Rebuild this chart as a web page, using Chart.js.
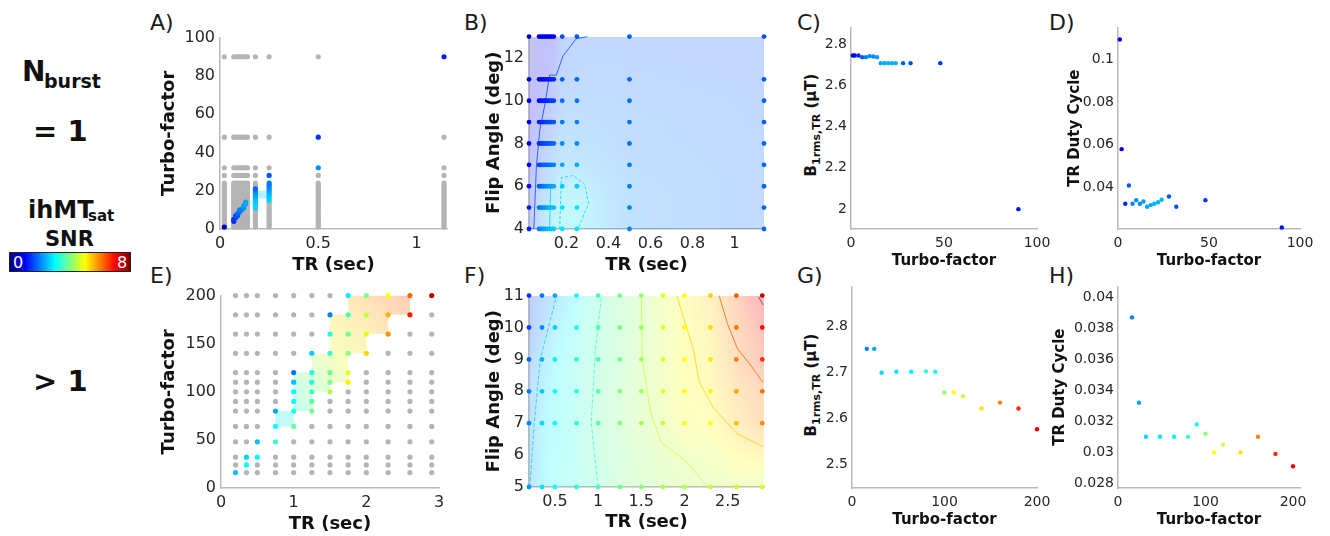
<!DOCTYPE html>
<html><head><meta charset="utf-8">
<script src="https://cdn.jsdelivr.net/npm/chart.js@4.4.1/dist/chart.umd.min.js"></script>
<style>
html,body{margin:0;padding:0;background:#fff;}
body{position:relative;width:1330px;height:536px;overflow:hidden;font-family:'DejaVu Sans',sans-serif;color:#111;}
.t{position:absolute;white-space:nowrap;line-height:1;}
.b{font-weight:bold;}
canvas{position:absolute;}
.pl{font-size:22px;color:#1a1a1a;}
</style></head><body>
<div class="t b" style="left:22px;top:58px;font-size:28px;">N</div>
<div class="t b" style="left:44px;top:72px;font-size:19px;">burst</div>
<div class="t b" style="left:33px;top:117px;font-size:29px;">= 1</div>
<div class="t b" style="left:28px;top:198px;font-size:24px;">ihMT</div>
<div class="t b" style="left:88px;top:209px;font-size:15px;">sat</div>
<div class="t b" style="left:45px;top:229px;font-size:21px;">SNR</div>
<div id="cbar" style="position:absolute;left:9px;top:252px;width:120px;height:18px;border:1.5px solid #222;"></div>
<div class="t" style="left:13px;top:255px;font-size:16px;color:#fff;">0</div>
<div class="t" style="left:117px;top:255px;font-size:16px;color:#fff;">8</div>
<div class="t b" style="left:33px;top:367px;font-size:29px;">&gt; 1</div>

<div class="t pl" style="left:150px;top:12px;">A)</div>
<div class="t pl" style="left:464px;top:12px;">B)</div>
<div class="t pl" style="left:797px;top:12px;">C)</div>
<div class="t pl" style="left:1049px;top:12px;">D)</div>
<div class="t pl" style="left:150px;top:265px;">E)</div>
<div class="t pl" style="left:464px;top:265px;">F)</div>
<div class="t pl" style="left:797px;top:265px;">G)</div>
<div class="t pl" style="left:1049px;top:265px;">H)</div>

<div class="t b" style="left:811px;top:125px;transform:translate(-50%,-50%) rotate(-90deg);font-size:15px;">B<span style="font-size:11px;position:relative;top:4px;">1rms,TR</span> (μT)</div>
<div class="t b" style="left:811px;top:385px;transform:translate(-50%,-50%) rotate(-90deg);font-size:15px;">B<span style="font-size:11px;position:relative;top:4px;">1rms,TR</span> (μT)</div>

<script>
// ---------------- DATA ----------------
// N_burst = 1 : tested grid (panels A, B)
const TR_AB = [0.022, 0.07, 0.08, 0.09, 0.10, 0.11, 0.12, 0.13, 0.14, 0.18, 0.25, 0.5, 1.14];
const TF_A = [1,2,3,4,5,6,7,8,9,10,11,12,13,14,15,16,17,18,19,20,21,22,23,24,28,32,48,90];
const FA_B = [4, 5, 6, 7, 8, 9, 10, 11, 13];
// SNR for panel B (rows = FA_B, cols = TR_AB)
const SNR_B = [
  [1.3, 2.0, 2.1, 2.2, 2.3, 2.4, 2.5, 2.55, 2.6, 2.8, 2.8, 2.0, 1.8],
  [1.2, 1.9, 2.0, 2.1, 2.2, 2.3, 2.4, 2.45, 2.5, 2.8, 2.8, 2.0, 1.8],
  [1.1, 1.7, 1.8, 1.9, 2.0, 2.1, 2.2, 2.25, 2.3, 2.6, 2.6, 2.0, 1.8],
  [1.0, 1.5, 1.6, 1.7, 1.75, 1.8, 1.9, 1.95, 2.0, 2.3, 2.3, 1.95, 1.8],
  [0.9, 1.3, 1.4, 1.5, 1.55, 1.6, 1.7, 1.75, 1.8, 2.1, 2.1, 1.9, 1.8],
  [0.85, 1.2, 1.3, 1.35, 1.4, 1.5, 1.55, 1.6, 1.65, 1.95, 2.0, 1.9, 1.75],
  [0.8, 1.05, 1.15, 1.2, 1.25, 1.3, 1.4, 1.45, 1.5, 1.85, 1.9, 1.85, 1.75],
  [0.7, 0.9, 1.0, 1.05, 1.1, 1.15, 1.2, 1.25, 1.3, 1.75, 1.8, 1.8, 1.7],
  [0.5, 0.6, 0.65, 0.7, 0.75, 0.8, 0.85, 0.9, 0.95, 1.6, 1.7, 1.7, 1.65]
];
// Panel A highlighted (coloured) points
const TR_Ac = [0.022, 0.07,0.07,0.08,0.08,0.09,0.09,0.10,0.10,0.11,0.12,0.12,0.13,0.13,
  0.18,0.18,0.18,0.18,0.18,0.18,0.18,0.18,0.18,0.18,0.18,
  0.25,0.25,0.25,0.25,0.25,0.25,0.25,0.25,0.25,0.25, 0.25, 0.5, 0.5, 1.14];
const TF_Ac = [1, 4,5,6,7,7,8,9,10,10,11,12,13,14,
  11,12,13,14,15,16,17,18,19,20,21,
  15,16,17,18,19,20,21,22,23,24, 28, 32, 48, 90];
const SNR_Ac = [0.5, 1.3,1.4,1.5,1.6,1.7,1.8,1.9,2.0,2.0,2.1,2.2,2.3,2.3,
  2.6,2.7,2.7,2.6,2.6,2.5,2.4,2.3,2.2,2.0,1.8,
  2.7,2.6,2.6,2.5,2.4,2.3,2.2,2.1,2.0,1.9, 1.7, 2.1, 1.4, 1.2];
const A_patchTR = [0.18, 0.25, 0.25, 0.18, 0.18];
const A_patchTF = [16, 16, 20, 20, 16];
const A_patchSNR = 2.6;
// Panel B contour lines
const B_c1TR = [0.045, 0.057, 0.073, 0.097, 0.12, 0.152, 0.184, 0.247, 0.3];
const B_c1FA = [4, 6.9, 8.6, 9.8, 11.2, 11.2, 12.1, 12.9, 13];
const B_c2TR = [0.12, 0.125];
const B_c2FA = [4, 5.9];
const B_c3TR = [0.168, 0.176, 0.231, 0.287, 0.306, 0.255];
const B_c3FA = [4, 6.4, 6.5, 6.1, 5.2, 4];
const B_levels = [1.5, 2.6, 2.6];
// Panels C, D : optimum per turbo-factor, N_burst = 1
const TF_1 = [1,2,4,6,8,10,12,14,16,18,20,22,24,28,32,48,90];
const B1_1 = [2.744,2.744,2.744,2.736,2.736,2.741,2.739,2.736,2.707,2.707,2.707,2.707,2.707,2.707,2.707,2.707,2.0];
const DC_1 = [0.1093,0.058,0.0324,0.041,0.0324,0.0341,0.0324,0.0335,0.031,0.0318,0.0324,0.0331,0.0343,0.0358,0.031,0.0341,0.0213];
const SNR_1 = [0.8,1.0,1.3,1.7,2.0,2.1,2.1,2.2,2.3,2.3,2.4,2.4,2.4,1.7,1.6,1.4,1.1];
// N_burst > 1 : tested grid (panels E, F)
const TR_N = [0.2, 0.35, 0.5, 0.75, 1.0, 1.25, 1.5, 1.75, 2.0, 2.3, 2.6, 2.9];
const TF_N = [16, 24, 32, 48, 64, 80, 90, 100, 110, 120, 140, 160, 180, 200];
const FA_F = [5, 7, 8, 9, 10, 11];
const SNR_F = [
  [2.2, 2.8, 3.1, 3.3, 3.6, 3.9, 4.1, 4.3, 4.4, 4.5, 4.6, 4.6],
  [2.1, 2.7, 3.0, 3.3, 3.7, 4.0, 4.3, 4.6, 4.9, 5.0, 5.5, 5.9],
  [2.0, 2.6, 3.0, 3.3, 3.7, 4.0, 4.3, 4.7, 5.0, 5.1, 5.7, 6.1],
  [1.8, 2.4, 2.9, 3.3, 3.6, 3.9, 4.3, 4.7, 5.0, 5.2, 6.0, 6.6],
  [1.5, 2.1, 2.6, 3.2, 3.6, 3.9, 4.2, 4.7, 5.0, 5.3, 6.1, 6.9],
  [1.4, 1.9, 2.3, 3.0, 3.5, 3.9, 4.2, 4.7, 5.0, 5.4, 6.3, 7.5]
];
// Panel E coloured points
const TR_Ec = [1.75,2.0,2.3,2.6,2.9, 1.5,1.75,2.0,2.3,2.6, 1.5,1.75,2.0,2.3, 1.25,1.5,1.75,2.0,
  1.0,1.25,1.5,1.75, 1.0,1.25,1.5,1.75, 1.0,1.25,1.5, 1.0,1.25, 0.75,1.0,1.25, 0.75,1.0, 0.5,0.75, 0.35,0.5, 0.35, 0.2];
const TF_Ec = [200,200,200,200,200, 180,180,180,180,180, 160,160,160,160, 140,140,140,140,
  120,120,120,120, 110,110,110,110, 100,100,100, 90,90, 80,80,80, 64,64, 48,48, 32,32, 24, 16];
const SNR_Ec = [2.9,4.0,5.0,6.2,7.6, 2.0,3.5,4.5,5.6,6.8, 3.2,3.9,4.7,5.9, 2.6,3.4,4.1,5.3,
  1.9,3.2,3.9,4.8, 2.5,3.3,4.0,5.1, 3.0,3.5,4.4, 3.1,3.7, 2.3,3.2,3.9, 3.1,3.8, 2.5,3.4, 2.7,3.0, 3.0, 2.5];
const E_patchTR = [0.75,0.75,1.0,1.0,1.25,1.25,1.5,1.5,1.75,1.75,2.6,2.6,2.3,2.3,2.0,2.0,1.75,1.75,1.5,1.5,1.25,1.25,1.0,1.0,0.75];
const E_patchTF = [64,80,80,120,120,140,140,180,180,200,200,180,180,160,160,140,140,110,110,100,100,80,80,64,64];
const E_patchSNR = [2.9, 3.8, 4.8, 5.6, 6.4];
// Panel F contour lines
const F_c1TR = [0.21, 0.26, 0.33, 0.52];        const F_c1FA = [5, 7, 9, 11];
const F_c2TR = [1.0, 0.92, 0.97, 1.04];         const F_c2FA = [5, 7, 9.35, 11];
const F_c3TR = [2.27, 2.02, 1.73, 1.61, 1.51, 1.5]; const F_c3FA = [5, 5.8, 6.4, 7.3, 9.0, 11];
const F_c4TR = [2.91, 2.61, 2.33, 2.17, 2.1, 1.91]; const F_c4FA = [6.26, 6.67, 7.5, 8.3, 9.35, 11];
const F_c5TR = [2.91, 2.77, 2.61, 2.5, 2.4];    const F_c5FA = [8.27, 8.8, 9.35, 10.1, 11];
const F_c6TR = [2.91, 2.86];                    const F_c6FA = [10.7, 10.95];
const F_levels = [2.6, 3.4, 4.6, 5.4, 6.3, 7.3];
// Panels G, H : optimum per turbo-factor, N_burst > 1
const B1_N = [2.752,2.752,2.700,2.702,2.702,2.703,2.702,2.657,2.657,2.649,2.622,2.635,2.622,2.577];
const DC_N = [0.0387,0.0332,0.0310,0.0310,0.0310,0.0310,0.0318,0.0312,0.0300,0.0305,0.0300,0.0310,0.0299,0.0291];
const SNR_N = [2.0,2.3,2.7,2.8,2.9,3.4,3.1,4.1,5.0,4.6,5.2,6.0,6.7,7.1];
// Tick values / labels
const A_xt = [0, 0.5, 1], A_xl = ['0','0.5','1'];
const A_yt = [0, 20, 40, 60, 80, 100], A_yl = ['0','20','40','60','80','100'];
const B_xt = [0.2, 0.4, 0.6, 0.8, 1], B_xl = ['0.2','0.4','0.6','0.8','1'];
const B_yt = [4, 6, 8, 10, 12], B_yl = ['4','6','8','10','12'];
const C_xt = [0, 50, 100], C_xl = ['0','50','100'];
const C_yt = [2, 2.2, 2.4, 2.6, 2.8], C_yl = ['2','2.2','2.4','2.6','2.8'];
const D_xt = [0, 50, 100], D_xl = ['0','50','100'];
const D_yt = [0.04, 0.06, 0.08, 0.1], D_yl = ['0.04','0.06','0.08','0.1'];
const E_xt = [0, 1, 2, 3], E_xl = ['0','1','2','3'];
const E_yt = [0, 50, 100, 150, 200], E_yl = ['0','50','100','150','200'];
const F_xt = [0.5, 1, 1.5, 2, 2.5], F_xl = ['0.5','1','1.5','2','2.5'];
const F_yt = [5, 6, 7, 8, 9, 10, 11], F_yl = ['5','6','7','8','9','10','11'];
const G_xt = [0, 100, 200], G_xl = ['0','100','200'];
const G_yt = [2.5, 2.6, 2.7, 2.8], G_yl = ['2.5','2.6','2.7','2.8'];
const H_xt = [0, 100, 200], H_xl = ['0','100','200'];
const H_yt = [0.028,0.03,0.032,0.034,0.036,0.038,0.04], H_yl = ['0.028','0.03','0.032','0.034','0.036','0.038','0.04'];

// ---------------- HELPERS ----------------
Chart.defaults.font.family = "'DejaVu Sans'";
const jet = s => { const t = Math.max(0, Math.min(1, s / 8)); const f = v => Math.round(255 * Math.max(0, Math.min(1, v)));
  return [f(1.5 - Math.abs(4*t - 3)), f(1.5 - Math.abs(4*t - 2)), f(1.5 - Math.abs(4*t - 1))]; };
const css = (c, a) => a === undefined ? `rgb(${c.join(',')})` : `rgba(${c.join(',')},${a})`;
// colorbar
(function(){ const st=[]; for(let k=0;k<=16;k++){ st.push(css(jet(k/2))+' '+(k/16*100)+'%'); }
  document.getElementById('cbar').style.background='linear-gradient(to right,'+st.join(',')+')'; })();

const pts = (xs, ys) => xs.map((x, i) => ({x, y: ys[i]}));
function colored(data, snr, r) { const c = snr.map(s => css(jet(s)));
  return {data, pointRadius: r, pointHoverRadius: r, pointBackgroundColor: c, pointBorderColor: c, pointBorderWidth: 0, clip: false, order: 0}; }
function grey(data, r) { return {data, pointRadius: r, pointHoverRadius: r, pointBackgroundColor: '#b4b4b4', pointBorderColor: '#b4b4b4', pointBorderWidth: 0, clip: false, order: 5}; }
function cline(data, lvl, dash) { return {type: 'line', data, borderColor: css(jet(lvl), 0.75), borderWidth: 1, borderDash: dash || [], pointRadius: 0, pointHoverRadius: 0, fill: false, tension: 0, order: 3, clip: false}; }
function patch(data, bg) { return {type: 'line', data, borderColor: 'rgba(0,0,0,0)', borderWidth: 0.01, pointRadius: 0, pointHoverRadius: 0, fill: 'shape', backgroundColor: bg, tension: 0, order: 10}; }
function gridPts(xs, ys) { const o = []; ys.forEach(y => xs.forEach(x => o.push({x, y}))); return o; }
function bilinear(xs, ys, Z, x, y) {
  let i = 0; while (i < xs.length - 2 && x > xs[i+1]) i++;
  let j = 0; while (j < ys.length - 2 && y > ys[j+1]) j++;
  const tx = Math.max(0, Math.min(1, (x - xs[i]) / (xs[i+1] - xs[i])));
  const ty = Math.max(0, Math.min(1, (y - ys[j]) / (ys[j+1] - ys[j])));
  return Z[j][i]*(1-tx)*(1-ty) + Z[j][i+1]*tx*(1-ty) + Z[j+1][i]*(1-tx)*ty + Z[j+1][i+1]*tx*ty;
}
function surface(xs, ys, Z, alpha) {
  return { id: 'surface', beforeDatasetsDraw(chart) {
    const {ctx, chartArea: a, scales: {x: sx, y: sy}} = chart;
    const w = Math.round(a.right - a.left), h = Math.round(a.bottom - a.top);
    const off = document.createElement('canvas'); off.width = w; off.height = h;
    const o = off.getContext('2d'); const img = o.createImageData(w, h);
    for (let py = 0; py < h; py++) { const yv = sy.getValueForPixel(a.top + py + 0.5);
      for (let px = 0; px < w; px++) { const xv = sx.getValueForPixel(a.left + px + 0.5);
        const c = jet(bilinear(xs, ys, Z, xv, yv)); const k = 4 * (py * w + px);
        img.data[k] = c[0]; img.data[k+1] = c[1]; img.data[k+2] = c[2]; img.data[k+3] = Math.round(alpha * 255); } }
    o.putImageData(img, 0, 0); ctx.drawImage(off, a.left, a.top);
  }};
}
function axis(min, max, tv, tl, title, isX, size, o) {
  return { type: 'linear', min, max, bounds: 'data',
    afterFit: s => { if (isX) s.height = size; else s.width = size; },
    afterBuildTicks: s => { s.ticks = tv.map(v => ({value: v})); },
    ticks: { autoSkip: false, maxRotation: 0, minRotation: 0, color: '#262626', font: {size: o.tick}, padding: isX ? o.xpad : o.ypad, callback: (v, i) => tl[i] },
    grid: { display: false, drawTicks: false },
    border: { display: true, color: '#b9b9b9', width: 1.5 },
    title: { display: !!title, text: title || '', color: '#111', font: {size: o.ttl, weight: 'bold'}, padding: 0 } };
}
function panel(o) {
  const lh = o.ttl * 1.2;
  const L = Math.round(o.l), R = Math.round(o.r), T = Math.round(o.t), B = Math.round(o.b);
  const cl = Math.round(o.ytc - lh / 2), yw = L - cl;
  const ct = T - 12, cb = Math.round(o.xtc + lh / 2), xh = cb - B;
  const W = yw + (R - L) + 28, H = cb - ct;
  const cv = document.createElement('canvas'); cv.width = W; cv.height = H;
  cv.style.left = cl + 'px'; cv.style.top = ct + 'px'; cv.style.width = W + 'px'; cv.style.height = H + 'px';
  document.body.appendChild(cv);
  new Chart(cv, { type: 'scatter', data: {datasets: o.ds},
    options: { responsive: false, animation: false, devicePixelRatio: 1,
      layout: {padding: {top: 12, right: 28, left: 0, bottom: 0}},
      plugins: {legend: {display: false}, tooltip: {enabled: false}},
      scales: { x: axis(o.xr[0], o.xr[1], o.xt, o.xl, o.xtitle, true, xh, o),
                y: axis(o.yr[0], o.yr[1], o.yt, o.yl, o.ytitle, false, yw, o) } },
    plugins: o.plugins || [] });
}
const big = {tick: 16, ttl: 18, xpad: 5, ypad: 5};
const small = {tick: 14, ttl: 15, xpad: 6, ypad: 4};

// ---------------- PANELS ----------------
const colA = pts(TR_Ac, TF_Ac);
const greyA = gridPts(TR_AB, TF_A).filter(p => !colA.some(q => q.x === p.x && q.y === p.y));
panel(Object.assign({}, big, { l: 220, r: 447, t: 35, b: 229, ytc: 170, xtc: 265,
  xr: [0, 1.155], yr: [0, 100], xt: A_xt, xl: A_xl, yt: A_yt, yl: A_yl, xtitle: 'TR (sec)', ytitle: 'Turbo-factor',
  ds: [ patch(pts(A_patchTR, A_patchTF), css(jet(A_patchSNR), 0.28)), grey(greyA, 2.6), colored(colA, SNR_Ac, 2.6) ] }));

const gB = gridPts(TR_AB, FA_B);
panel(Object.assign({}, big, { l: 529, r: 764, t: 34, b: 229, ytc: 495, xtc: 265,
  xr: [0.022, 1.14], yr: [4, 13], xt: B_xt, xl: B_xl, yt: B_yt, yl: B_yl, xtitle: 'TR (sec)', ytitle: 'Flip Angle (deg)',
  plugins: [surface(TR_AB, FA_B, SNR_B, 0.24)],
  ds: [ cline(pts(B_c1TR, B_c1FA), B_levels[0]), cline(pts(B_c2TR, B_c2FA), B_levels[1]), cline(pts(B_c3TR, B_c3FA), B_levels[2], [3, 2]),
        colored(gB, SNR_B.flat(), 2.4) ] }));

panel(Object.assign({}, small, { l: 851, r: 1037, t: 27, b: 229, ytc: 809, xtc: 261,
  xr: [0, 100], yr: [1.904, 2.88], xt: C_xt, xl: C_xl, yt: C_yt, yl: C_yl, xtitle: 'Turbo-factor', ytitle: '',
  ds: [ colored(pts(TF_1, B1_1), SNR_1, 2.2) ] }));

panel(Object.assign({}, small, { l: 1118, r: 1300, t: 27, b: 229, ytc: 1075, xtc: 261,
  xr: [0, 100], yr: [0.0206, 0.115], xt: D_xt, xl: D_xl, yt: D_yt, yl: D_yl, xtitle: 'Turbo-factor', ytitle: 'TR Duty Cycle',
  ds: [ colored(pts(TF_1, DC_1), SNR_1, 2.2) ] }));

const colE = pts(TR_Ec, TF_Ec);
const greyE = gridPts(TR_N, TF_N).filter(p => !colE.some(q => q.x === p.x && q.y === p.y));
const gradE = c => { const ch = c.chart; if (!ch.chartArea) return 'rgba(0,0,0,0)';
  const sx = ch.scales.x, sy = ch.scales.y;
  const g = ch.ctx.createLinearGradient(sx.getPixelForValue(0.75), sy.getPixelForValue(64), sx.getPixelForValue(2.6), sy.getPixelForValue(200));
  E_patchSNR.forEach((s, k) => g.addColorStop(k / (E_patchSNR.length - 1), css(jet(s), 0.28))); return g; };
panel(Object.assign({}, big, { l: 221, r: 439, t: 293, b: 488, ytc: 170, xtc: 524,
  xr: [0, 3], yr: [0, 200], xt: E_xt, xl: E_xl, yt: E_yt, yl: E_yl, xtitle: 'TR (sec)', ytitle: 'Turbo-factor',
  ds: [ patch(pts(E_patchTR, E_patchTF), gradE), grey(greyE, 2.6), colored(colE, SNR_Ec, 2.6) ] }));

const gF = gridPts(TR_N, FA_F);
panel(Object.assign({}, big, { l: 529, r: 764, t: 293, b: 487, ytc: 495, xtc: 522,
  xr: [0.2, 2.92], yr: [5, 11], xt: F_xt, xl: F_xl, yt: F_yt, yl: F_yl, xtitle: 'TR (sec)', ytitle: 'Flip Angle (deg)',
  plugins: [surface(TR_N, FA_F, SNR_F, 0.25)],
  ds: [ cline(pts(F_c1TR, F_c1FA), F_levels[0], [4, 2]), cline(pts(F_c2TR, F_c2FA), F_levels[1], [4, 2]), cline(pts(F_c3TR, F_c3FA), F_levels[2]),
        cline(pts(F_c4TR, F_c4FA), F_levels[3]), cline(pts(F_c5TR, F_c5FA), F_levels[4]), cline(pts(F_c6TR, F_c6FA), F_levels[5]),
        colored(gF, SNR_F.flat(), 2.4) ] }));

panel(Object.assign({}, small, { l: 852, r: 1037, t: 286, b: 488, ytc: 809, xtc: 520,
  xr: [0, 200], yr: [2.449, 2.888], xt: G_xt, xl: G_xl, yt: G_yt, yl: G_yl, xtitle: 'Turbo-factor', ytitle: '',
  ds: [ colored(pts(TF_N, B1_N), SNR_N, 2.2) ] }));

panel(Object.assign({}, small, { l: 1118, r: 1300, t: 286, b: 488, ytc: 1060, xtc: 520,
  xr: [0, 208], yr: [0.0277, 0.0407], xt: H_xt, xl: H_xl, yt: H_yt, yl: H_yl, xtitle: 'Turbo-factor', ytitle: 'TR Duty Cycle',
  ds: [ colored(pts(TF_N, DC_N), SNR_N, 2.2) ] }));
</script>
</body></html>
